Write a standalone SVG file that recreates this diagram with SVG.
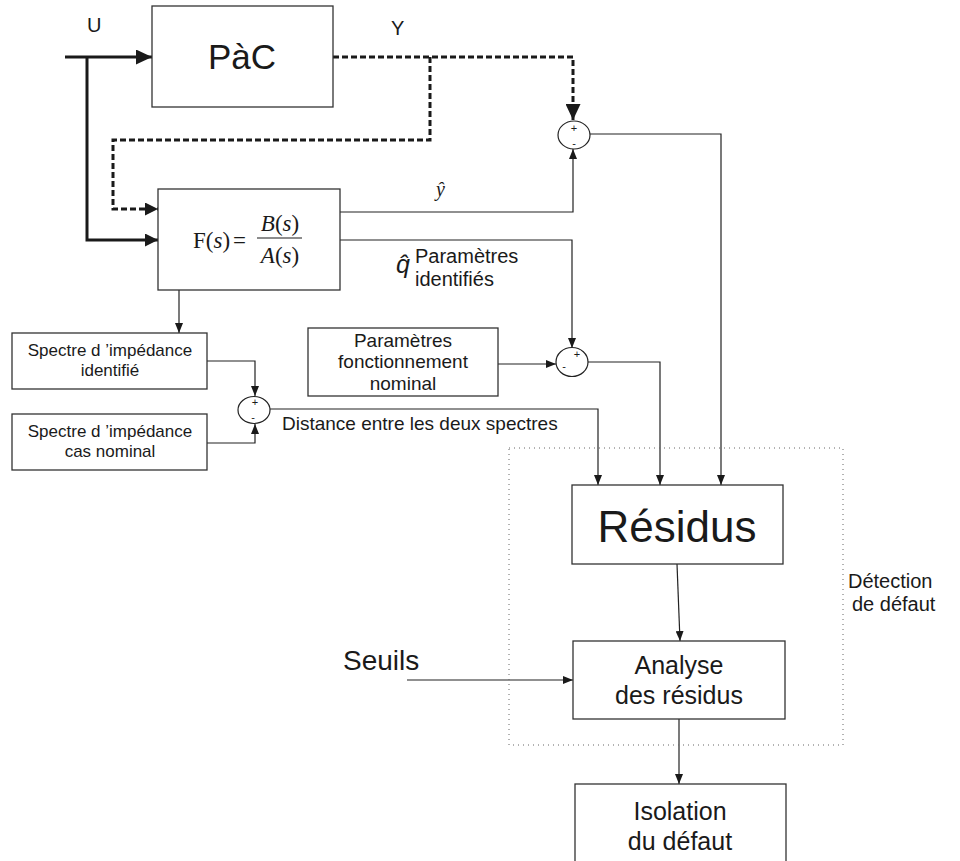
<svg xmlns="http://www.w3.org/2000/svg" width="960" height="861" viewBox="0 0 960 861">
<style>
.box{fill:#fff;stroke:#333;stroke-width:1.3}
.sum{fill:#fff;stroke:#222;stroke-width:1.2}
.thin{fill:none;stroke:#222;stroke-width:1.2}
.thick{fill:none;stroke:#1a1a1a;stroke-width:3}
.dash{fill:none;stroke:#1a1a1a;stroke-width:3;stroke-dasharray:6 3}
.dot{fill:none;stroke:#666;stroke-width:1;stroke-dasharray:1 4}
text{font-family:"Liberation Sans",Arial,sans-serif;fill:#1a1a1a}
.c{text-anchor:middle}
.serif{font-family:"Liberation Serif","Times New Roman",serif}
.sg{font-size:11px;text-anchor:middle}
</style>
<defs>
<marker id="at" viewBox="0 0 10 8" refX="10" refY="4" markerWidth="10" markerHeight="8" markerUnits="userSpaceOnUse" orient="auto"><path d="M0,0 L10,4 L0,8 Z" fill="#1a1a1a"/></marker>
<marker id="ak" viewBox="0 0 16 15" refX="16" refY="7.5" markerWidth="16" markerHeight="15" markerUnits="userSpaceOnUse" orient="auto"><path d="M0,0 L16,7.5 L0,15 Z" fill="#1a1a1a"/></marker>
<marker id="am" viewBox="0 0 13 13" refX="13" refY="6.5" markerWidth="13" markerHeight="13" markerUnits="userSpaceOnUse" orient="auto"><path d="M0,0 L13,6.5 L0,13 Z" fill="#1a1a1a"/></marker>
</defs>

<g id="connectors">
<path class="thick" d="M65,57 H152" marker-end="url(#ak)"/>
<path class="thick" d="M87,57 V240 H158" marker-end="url(#am)"/>
<path class="dash" d="M333,57 H573 V120" marker-end="url(#ak)"/>
<path class="dash" d="M430,57 V140 H113 V209 H158" marker-end="url(#am)"/>
<path class="thin" d="M340,212 H573 V149" marker-end="url(#at)"/>
<path class="thin" d="M340,240 H572 V348" marker-end="url(#at)"/>
<path class="thin" d="M179,290 V333" marker-end="url(#at)"/>
<path class="thin" d="M207,361 H255 V396" marker-end="url(#at)"/>
<path class="thin" d="M207,443 H255 V424" marker-end="url(#at)"/>
<path class="thin" d="M498,364 H556" marker-end="url(#at)"/>
<path class="thin" d="M270,409 H598 V485" marker-end="url(#at)"/>
<path class="thin" d="M588,362 H660 V485" marker-end="url(#at)"/>
<path class="thin" d="M590,134 H721 V485" marker-end="url(#at)"/>
<path class="thin" d="M677,564 L680,641" marker-end="url(#at)"/>
<path class="thin" d="M679,719 V784" marker-end="url(#at)"/>
<path class="thin" d="M407,680 H573" marker-end="url(#at)"/>
</g>

<g id="detection-zone">
<rect class="dot" x="509" y="448" width="334" height="297"/>
<text x="848" y="588" font-size="20">Détection</text>
<text x="852" y="611" font-size="20">de défaut</text>
</g>

<g id="labels">
<text x="87" y="32" font-size="20">U</text>
<text x="391" y="35" font-size="20">Y</text>
<text class="serif" x="436" y="196" font-size="20" font-style="italic">ŷ</text>
<text x="396" y="273" font-size="25" font-style="italic">q̂</text>
<text x="415" y="263" font-size="20">Paramètres</text>
<text x="415" y="286" font-size="20">identifiés</text>
<text x="282" y="430" font-size="19">Distance entre les deux spectres</text>
<text x="343" y="670" font-size="28">Seuils</text>
</g>

<g id="pac">
<rect class="box" x="152" y="6" width="181" height="101"/>
<text class="c" x="242" y="69" font-size="35">PàC</text>
</g>

<g id="model">
<rect class="box" x="158" y="189" width="182" height="101"/>
<text class="serif" x="193" y="248" font-size="23">F(<tspan font-style="italic">s</tspan>)<tspan dx="3">=</tspan></text>
<text class="serif c" x="280" y="231" font-size="23"><tspan font-style="italic">B</tspan>(<tspan font-style="italic">s</tspan>)</text>
<line x1="257" y1="238" x2="302" y2="238" stroke="#1a1a1a" stroke-width="1.2"/>
<text class="serif c" x="280" y="263" font-size="23"><tspan font-style="italic">A</tspan>(<tspan font-style="italic">s</tspan>)</text>
</g>

<g id="sum-y">
<ellipse class="sum" cx="574" cy="135" rx="16" ry="14"/>
<text class="sg" x="574" y="132">+</text>
<text class="sg" x="574" y="147">-</text>
</g>

<g id="spectre-identifie">
<rect class="box" x="12" y="333" width="195" height="56"/>
<text class="c" x="110" y="356" font-size="17">Spectre d ’impédance</text>
<text class="c" x="110" y="376" font-size="17">identifié</text>
</g>

<g id="spectre-nominal">
<rect class="box" x="12" y="414" width="195" height="56"/>
<text class="c" x="110" y="437" font-size="17">Spectre d ’impédance</text>
<text class="c" x="110" y="457" font-size="17">cas nominal</text>
</g>

<g id="sum-spectres">
<ellipse class="sum" cx="254" cy="410" rx="16" ry="13.5"/>
<text class="sg" x="255" y="406">+</text>
<text class="sg" x="253" y="421">-</text>
</g>

<g id="parametres-nominal">
<rect class="box" x="308" y="328" width="190" height="68"/>
<text class="c" x="403" y="347" font-size="19">Paramètres</text>
<text class="c" x="403" y="368" font-size="19">fonctionnement</text>
<text class="c" x="403" y="390" font-size="19">nominal</text>
</g>

<g id="sum-parametres">
<ellipse class="sum" cx="572" cy="362" rx="16" ry="14.5"/>
<text class="sg" x="577" y="358">+</text>
<text class="sg" x="564" y="370">-</text>
</g>

<g id="residus">
<rect class="box" x="572" y="485" width="211" height="79"/>
<text class="c" x="677" y="542" font-size="44">Résidus</text>
</g>

<g id="analyse">
<rect class="box" x="573" y="641" width="212" height="78"/>
<text class="c" x="679" y="674" font-size="25">Analyse</text>
<text class="c" x="679" y="704" font-size="25">des résidus</text>
</g>

<g id="isolation">
<rect class="box" x="575" y="784" width="211" height="90"/>
<text class="c" x="680" y="820" font-size="25">Isolation</text>
<text class="c" x="680" y="850" font-size="25">du défaut</text>
</g>
</svg>
